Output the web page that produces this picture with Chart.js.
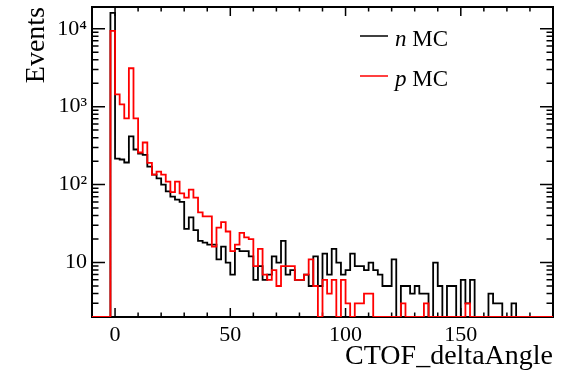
<!DOCTYPE html>
<html>
<head>
<meta charset="utf-8">
<script src="https://cdn.jsdelivr.net/npm/chart.js@4/dist/chart.umd.min.js"></script>
<style>
  html, body { margin: 0; padding: 0; background: #fff; }
  #chart { display: block; width: 575px; height: 377px; }
</style>
</head>
<body>
<canvas id="chart" width="575" height="377"></canvas>
<script>
/* ============================================================
   DATA — 2-wide bins starting at -10
============================================================ */
const BIN_START = -10;
const BIN_WIDTH = 2;

// n MC (black)
const N_MC = [
  0, 0, 0, 0, 16000, 215, 210, 192, 415, 282,
  250, 240, 170, 134, 120, 100, 82, 70, 64, 60,
  27, 38, 26, 19, 18, 17, 17, 11, 16, 10,
  7, 15, 14, 14, 12, 6, 9, 6, 7, 12,
  10, 19, 7, 8, 6, 6, 7, 5, 12, 5,
  13, 7, 15, 10, 7, 8, 13, 9, 9, 8,
  10, 8, 7, 5, 5, 11, 1, 5, 5, 4,
  5, 4, 4, 1, 10, 5, 1, 5, 5, 1,
  6, 3, 6, 1, 0, 1, 4, 3, 3, 1,
  0, 3, 0, 0, 0, 0, 0, 0, 0, 0
];

// p MC (red)
const P_MC = [
  0, 0, 0, 0, 9400, 1440, 1070, 707, 3110, 707,
  258, 347, 190, 134, 147, 134, 109, 80, 109, 77,
  68, 86, 68, 44, 39, 39, 16, 28, 33, 25,
  14, 17, 24, 21, 20, 9, 15, 7, 6, 8,
  5, 9, 9, 9, 6, 6, 7, 11, 5, 0,
  6, 4, 6, 0, 6, 3, 0, 3, 3, 4,
  4, 0, 0, 0, 0, 0, 0, 3, 0, 0,
  0, 0, 3, 0, 0, 0, 0, 0, 0, 0,
  0, 3, 0, 0, 0, 0, 0, 0, 0, 0,
  0, 0, 0, 0, 0, 0, 0, 0, 0, 0
];

const SERIES = ['n', 'p'];
const X_TICKS = [0, 50, 100, 150];
const Y_TICKS = [10, 100, 1000, 10000];
const X_TITLE = 'CTOF_deltaAngle';
const Y_TITLE = 'Events';

const X_MIN = -10, X_MAX = 190;
const Y_MIN = 2, Y_MAX = 19000;
const SERIF = "'Liberation Serif', 'Times New Roman', serif";

// histogram -> stepped points (empty bins sit on the frame like ROOT)
const toSteps = vals => {
  const pts = vals.map((v, i) => ({ x: BIN_START + i * BIN_WIDTH, y: Math.max(v, Y_MIN) }));
  pts.push({ x: BIN_START + vals.length * BIN_WIDTH, y: pts[pts.length - 1].y });
  return pts;
};

const SUP = { 0: '\u2070', 1: '\u00b9', 2: '\u00b2', 3: '\u00b3', 4: '\u2074', 5: '\u2075' };
const decadeLabel = v => {
  const e = Math.round(Math.log10(v));
  return e === 1 ? '10' : '10' + String(e).split('').map(c => SUP[c]).join('');
};

/* ============================================================
   PLUGINS — ROOT style frame / inner ticks / legend
============================================================ */
const rootFrame = {
  id: 'rootFrame',
  beforeDatasetsDraw(chart) {
    const { ctx, chartArea: a, scales: { x, y } } = chart;
    ctx.save();
    ctx.strokeStyle = '#000';
    ctx.lineWidth = 1.5;
    ctx.beginPath();
    for (let v = X_MIN; v <= X_MAX; v += 10) {
      const px = x.getPixelForValue(v);
      const len = v % 50 === 0 ? 9 : 4.5;
      ctx.moveTo(px, a.bottom); ctx.lineTo(px, a.bottom - len);
      ctx.moveTo(px, a.top); ctx.lineTo(px, a.top + len);
    }
    for (let d = 1; d <= Y_MAX; d *= 10) {
      for (let k = 1; k < 10; k++) {
        const v = k * d;
        if (v < Y_MIN || v > Y_MAX) continue;
        const py = y.getPixelForValue(v);
        const len = k === 1 ? 13 : 6.5;
        ctx.moveTo(a.left, py); ctx.lineTo(a.left + len, py);
        ctx.moveTo(a.right, py); ctx.lineTo(a.right - len, py);
      }
    }
    ctx.stroke();
    ctx.lineWidth = 2;
    ctx.strokeRect(a.left, a.top, a.right - a.left, a.bottom - a.top);
    ctx.restore();
  }
};

const rootLegend = {
  id: 'rootLegend',
  afterDraw(chart) {
    const { ctx } = chart;
    const rows = [
      { name: SERIES[0], color: chart.data.datasets[0].borderColor, y: 36 },
      { name: SERIES[1], color: chart.data.datasets[1].borderColor, y: 76 }
    ];
    ctx.save();
    ctx.textBaseline = 'alphabetic';
    ctx.fillStyle = '#000';
    rows.forEach(r => {
      ctx.strokeStyle = r.color;
      ctx.lineWidth = 1.5;
      ctx.beginPath();
      ctx.moveTo(360, r.y); ctx.lineTo(388, r.y);
      ctx.stroke();
      ctx.font = 'italic 23px ' + SERIF;
      ctx.fillText(r.name, 395, r.y + 10);
      const w = ctx.measureText(r.name + ' ').width;
      ctx.font = '23px ' + SERIF;
      ctx.fillText('MC', 395 + w, r.y + 10);
    });
    ctx.restore();
  }
};

/* ============================================================
   CHART
============================================================ */
new Chart(document.getElementById('chart'), {
  type: 'line',
  data: {
    datasets: [
      { label: 'n MC', data: toSteps(N_MC), borderColor: '#000000', order: 2 },
      { label: 'p MC', data: toSteps(P_MC), borderColor: '#ff0000', order: 1 }
    ]
  },
  options: {
    responsive: false,
    animation: false,
    devicePixelRatio: 1,
    layout: { padding: { top: 7, right: 22, left: 0, bottom: 0 } },
    elements: {
      point: { radius: 0 },
      line: { borderWidth: 1.8, stepped: true, tension: 0, fill: false }
    },
    plugins: { legend: { display: false }, tooltip: { enabled: false } },
    scales: {
      x: {
        type: 'linear', min: X_MIN, max: X_MAX,
        grid: { display: false, drawTicks: false },
        border: { display: false },
        afterBuildTicks: s => { s.ticks = X_TICKS.map(v => ({ value: v })); },
        afterFit: s => { s.height = 60; s.paddingLeft = 0; s.paddingRight = 0; },
        ticks: { color: '#000', font: { family: SERIF, size: 22 }, padding: 5, maxRotation: 0, autoSkip: false },
        title: {
          display: true, text: X_TITLE, align: 'end', color: '#000',
          font: { family: SERIF, size: 28 }, padding: { top: 0, bottom: 4 }
        }
      },
      y: {
        type: 'logarithmic', min: Y_MIN, max: Y_MAX,
        grid: { display: false, drawTicks: false },
        border: { display: false },
        afterBuildTicks: s => { s.ticks = Y_TICKS.map(v => ({ value: v })); },
        afterFit: s => { s.width = 92; s.paddingTop = 0; s.paddingBottom = 0; },
        ticks: { color: '#000', font: { family: SERIF, size: 22 }, padding: 5, autoSkip: false, callback: decadeLabel },
        title: {
          display: true, text: Y_TITLE, align: 'end', color: '#000',
          font: { family: SERIF, size: 28 }, padding: { top: 20, bottom: 0 }
        }
      }
    }
  },
  plugins: [rootFrame, rootLegend]
});
</script>
</body>
</html>
